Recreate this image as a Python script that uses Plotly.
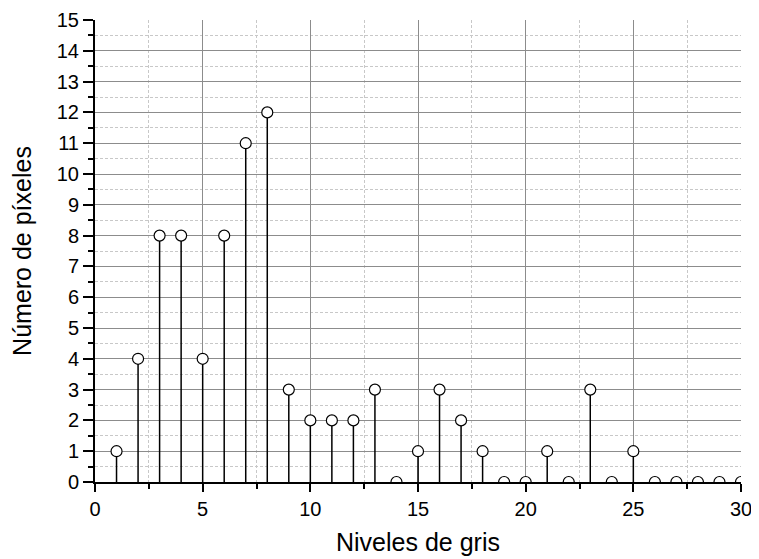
import plotly.graph_objects as go

gray_levels = list(range(1, 31))
pixel_counts = [1, 4, 8, 8, 4, 8, 11, 12, 3, 2, 2, 2, 3, 0, 1, 3, 2, 1, 0, 0,
                1, 0, 3, 0, 1, 0, 0, 0, 0, 0]
x_title = "Niveles de gris"
y_title = "Número de píxeles"

stem_x, stem_y = [], []
for xv, yv in zip(gray_levels, pixel_counts):
    stem_x += [xv, xv, None]
    stem_y += [0, yv, None]

fig = go.Figure()
fig.add_trace(go.Scatter(x=stem_x, y=stem_y, mode="lines",
                         line=dict(color="black", width=1.5),
                         hoverinfo="skip", showlegend=False))
fig.add_trace(go.Scatter(x=gray_levels, y=pixel_counts, mode="markers",
                         marker=dict(symbol="circle", size=11, color="white",
                                     line=dict(color="black", width=1.2)),
                         showlegend=False))

font = "Liberation Sans, Arial, sans-serif"
# page body has an 8px margin, so the figure is shifted by 8px
fig.update_layout(
    width=751, height=551,
    margin=dict(l=87, r=17.5, t=11.5, b=76.7),
    paper_bgcolor="white", plot_bgcolor="white",
    font=dict(family=font, color="black", size=20),
)
fig.update_xaxes(
    range=[0, 30], dtick=5, tick0=0, automargin=False,
    showline=True, linecolor="black", linewidth=2,
    ticks="outside", ticklen=8, tickwidth=2, tickcolor="black",
    showgrid=True, gridcolor="#8c8c8c", gridwidth=1,
    zeroline=False,
    minor=dict(dtick=2.5, ticks="outside", ticklen=5, tickwidth=2, tickcolor="black",
               showgrid=True, gridcolor="#c8c8c8", griddash="3px,2px", gridwidth=1),
    tickfont=dict(size=20),
    title=dict(text=x_title, font=dict(size=25), standoff=14),
)
fig.update_yaxes(
    range=[0, 15], dtick=1, tick0=0, automargin=False,
    showline=True, linecolor="black", linewidth=2,
    ticks="outside", ticklen=10, tickwidth=2, tickcolor="black",
    showgrid=True, gridcolor="#8c8c8c", gridwidth=1,
    zeroline=False,
    minor=dict(dtick=0.5, ticks="outside", ticklen=5, tickwidth=2, tickcolor="black",
               showgrid=True, gridcolor="#c8c8c8", griddash="3px,2px", gridwidth=1),
    tickfont=dict(size=20),
    title=dict(text=y_title, font=dict(size=25), standoff=20),
)
fig.write_html("out.html")
